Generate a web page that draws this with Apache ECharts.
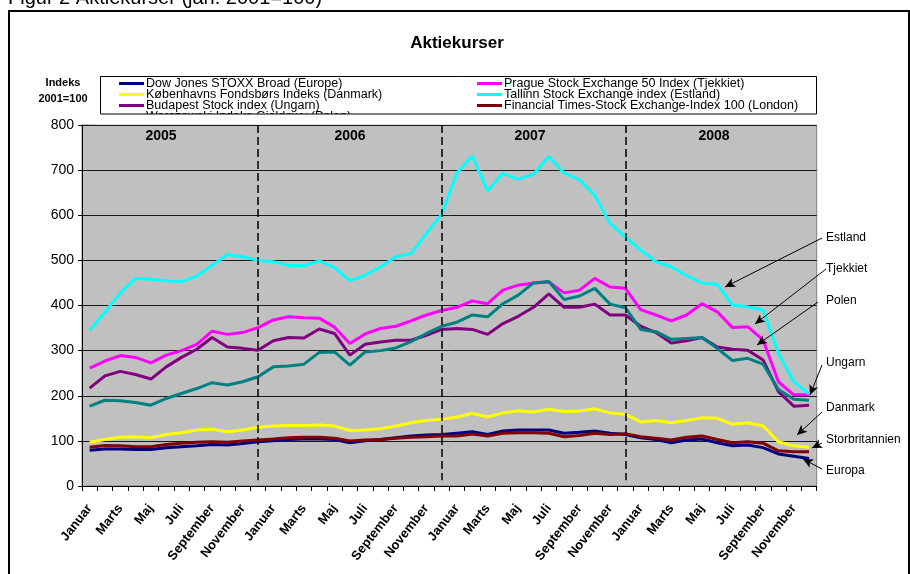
<!DOCTYPE html>
<html>
<head>
<meta charset="utf-8">
<script src="https://cdn.jsdelivr.net/npm/echarts@6/dist/echarts.min.js"></script>
<style>
html,body{margin:0;padding:0;background:#fff;}
#c{width:910px;height:574px;}
</style>
</head>
<body>
<div id="c"></div>
<script>
// ---- Data ----
var monthNames = ['Januar','Februar','Marts','April','Maj','Juni','Juli','August','September','Oktober','November','December'];
var years = ['2005','2006','2007','2008'];
var categories = [];
years.forEach(function(){ monthNames.forEach(function(m){ categories.push(m); }); });

var europe = [79,82,82,81,81,85,87,89,92,91,94,98,100,103,104,104,
              103,96,100,103,107,111,113,114,117,120,114,122,124,124,124,117,119,122,
              117,114,107,103,96,102,104,96,89,91,85,71,66,61];
var czech = [261,277,289,285,273,290,300,314,343,336,340,351,368,375,373,372,
             352,316,337,349,354,366,379,389,396,410,404,434,445,450,452,428,434,460,
             441,438,391,379,366,379,404,386,351,353,323,231,202,202];
var denmark = [97,103,108,109,107,114,118,124,126,120,124,130,133,134,134,135,
               133,123,124,127,133,140,145,148,153,161,153,162,167,164,170,165,166,171,
               162,159,142,145,140,145,151,150,137,140,133,98,89,86];
var estonia = [345,385,428,460,458,455,453,465,489,513,508,500,497,489,488,499,
               484,455,467,486,508,515,560,602,694,731,654,693,680,691,730,693,679,644,
               582,552,523,497,486,466,450,447,401,397,390,294,231,204];
var hungary = [217,244,254,247,237,264,285,303,329,308,305,301,322,329,328,348,
               338,290,314,319,323,323,334,347,349,347,336,360,376,396,426,396,396,403,
               379,379,354,340,317,322,329,308,303,301,279,209,177,179];
var london = [86,90,89,87,87,92,95,97,98,97,100,102,104,107,108,108,
              106,100,102,103,106,108,109,111,111,115,111,117,118,118,117,109,112,117,
              114,116,109,106,102,108,111,103,96,98,95,78,76,76];
var poland = [177,190,189,185,179,194,205,216,229,224,231,242,264,266,270,296,
              297,268,297,300,306,320,338,354,363,379,375,404,423,450,453,413,421,438,
              403,395,347,342,325,327,329,305,278,283,270,214,192,190];

var seriesNames = {
  europe: 'Dow Jones STOXX Broad (Europe)',
  czech: 'Prague Stock Exchange 50 Index (Tjekkiet)',
  denmark: 'Københavns Fondsbørs Indeks (Danmark)',
  estonia: 'Tallinn Stock Exchange index (Estland)',
  hungary: 'Budapest Stock index (Ungarn)',
  london: 'Financial Times-Stock Exchange-Index 100 (London)',
  poland: 'Warszawski Indeks Giełdowy (Polen)'
};
var yTicks = {min:0, max:800, interval:100};
var dashedAt = [11, 23, 35];   // December of 2005-2007
var dottedAt = [30, 42];       // July 2007, July 2008
var annotations = ['Estland','Tjekkiet','Polen','Ungarn','Danmark','Storbritannien','Europa'];

// ---- Chart ----
var chart = echarts.init(document.getElementById('c'), null, {renderer:'canvas'});
var FONT = 'Liberation Sans, Arial, sans-serif';

function mkSeries(name, data, color){
  return {name:name, type:'line', data:data, showSymbol:false, symbol:'none',
          lineStyle:{color:color, width:3}, itemStyle:{color:color},
          silent:true, animation:false, clip:false};
}

var markLines = [];
dashedAt.forEach(function(i){
  markLines.push([{coord:[i,800], lineStyle:{type:[8,4], width:1.5, color:'#000'}},{coord:[i,13]}]);
});
dottedAt.forEach(function(i){
  markLines.push([{coord:[i,800], lineStyle:{type:[1,1.5], width:1, color:'#333'}},{coord:[i,-20]}]);
});

// annotation arrows (label anchor -> pointer)
var arrowPix = [
  [[822,238],[725,287]],
  [[826,269],[755,324]],
  [[818,302],[757,345]],
  [[822,365],[810,395]],
  [[822,412],[797,435]],
  [[822,443],[812,448]],
  [[822,469],[803,459]]
];
var arrowLines = arrowPix.map(function(p){
  return [{x:p[0][0], y:p[0][1], symbol:'none', lineStyle:{type:'solid', width:1, color:'#000'}},
          {x:p[1][0], y:p[1][1], symbol:'arrow'}];
});
var labelY = [238,269,301,363,408,440,471];

var s0 = mkSeries(seriesNames.europe, europe, '#000080');
s0.markLine = {silent:true, symbol:['none','none'], label:{show:false}, animation:false, data:markLines};
var s1 = mkSeries(seriesNames.czech, czech, '#FF00FF');
var s2 = mkSeries(seriesNames.denmark, denmark, '#FFFF00');
var s3 = mkSeries(seriesNames.estonia, estonia, '#00FFFF');
var s4 = mkSeries(seriesNames.hungary, hungary, '#800080');
var s5 = mkSeries(seriesNames.london, london, '#800000');
var s6 = mkSeries(seriesNames.poland, poland, '#008080');
s6.markLine = {silent:true, symbol:['none','arrow'], symbolSize:[7,10], label:{show:false}, animation:false, data:arrowLines};

var graphics = [
  {type:'rect', z:200, silent:true, shape:{x:9,y:11,width:900,height:600}, style:{fill:'none', stroke:'#000', lineWidth:2}},
  {type:'text', z:200, silent:true, x:8, y:8, style:{text:'Figur 2 Aktiekurser (jan. 2001=100)', font:'20px '+FONT, fill:'#000', verticalAlign:'bottom'}},
  {type:'text', z:200, silent:true, x:457, y:43, style:{text:'Aktiekurser', font:'bold 17px '+FONT, fill:'#000', align:'center', verticalAlign:'middle'}},
  {type:'text', z:200, silent:true, x:63, y:83, style:{text:'Indeks', font:'bold 11px '+FONT, fill:'#000', align:'center', verticalAlign:'middle'}},
  {type:'text', z:200, silent:true, x:63, y:99, style:{text:'2001=100', font:'bold 11px '+FONT, fill:'#000', align:'center', verticalAlign:'middle'}},
  // cover to clip the legend's 4th row at the legend box
  {type:'rect', z:150, silent:true, shape:{x:95,y:114,width:725,height:10.5}, style:{fill:'#fff'}},
  {type:'rect', z:151, silent:true, shape:{x:100.5,y:76.5,width:716,height:37.5}, style:{fill:'none', stroke:'#000', lineWidth:1}}
];
var yearX = [161, 350, 530, 714];
years.forEach(function(y, k){
  graphics.push({type:'text', z:120, silent:true, x:yearX[k], y:136, style:{text:y, font:'bold 14px '+FONT, fill:'#000', align:'center', verticalAlign:'middle'}});
});
annotations.forEach(function(t, k){
  graphics.push({type:'text', z:120, silent:true, x:826, y:labelY[k], style:{text:t, font:'12px '+FONT, fill:'#000', align:'left', verticalAlign:'middle'}});
});

var legendCommon = {
  orient:'vertical', itemWidth:25, itemHeight:3, itemGap:-2, icon:'rect',
  textStyle:{fontFamily:FONT, fontSize:12.5, color:'#000', lineHeight:10, padding:[0,0,0,-3]},
  selectedMode:false, padding:0, z:100
};

var option = {
  backgroundColor:'#fff',
  animation:false,
  legend:[
    Object.assign({}, legendCommon, {left:119, top:77, data:[seriesNames.europe, seriesNames.denmark, seriesNames.hungary, seriesNames.poland]}),
    Object.assign({}, legendCommon, {left:477, top:77, data:[seriesNames.czech, seriesNames.estonia, seriesNames.london]})
  ],
  grid:{left:82, top:125, right:93.3, bottom:88, show:true, backgroundColor:'#C0C0C0', borderColor:'#808080', borderWidth:1, containLabel:false},
  xAxis:{
    type:'category', data:categories, boundaryGap:true,
    axisLine:{lineStyle:{color:'#000', width:1}},
    axisTick:{show:true, interval:0, length:5, inside:false, lineStyle:{color:'#000'}},
    axisLabel:{interval:1, rotate:52, fontFamily:FONT, fontWeight:'bold', fontSize:13, color:'#000', margin:20},
    splitLine:{show:false}
  },
  yAxis:{
    type:'value', min:yTicks.min, max:yTicks.max, interval:yTicks.interval,
    axisLine:{show:true, lineStyle:{color:'#000', width:1}},
    axisTick:{show:true, length:4, lineStyle:{color:'#000'}},
    axisLabel:{fontFamily:FONT, fontSize:14, color:'#000', margin:8},
    splitLine:{show:true, lineStyle:{color:'#1a1a1a', width:1}}
  },
  series:[s0,s1,s2,s3,s4,s5,s6],
  graphic:graphics
};
chart.setOption(option);
</script>
</body>
</html>
